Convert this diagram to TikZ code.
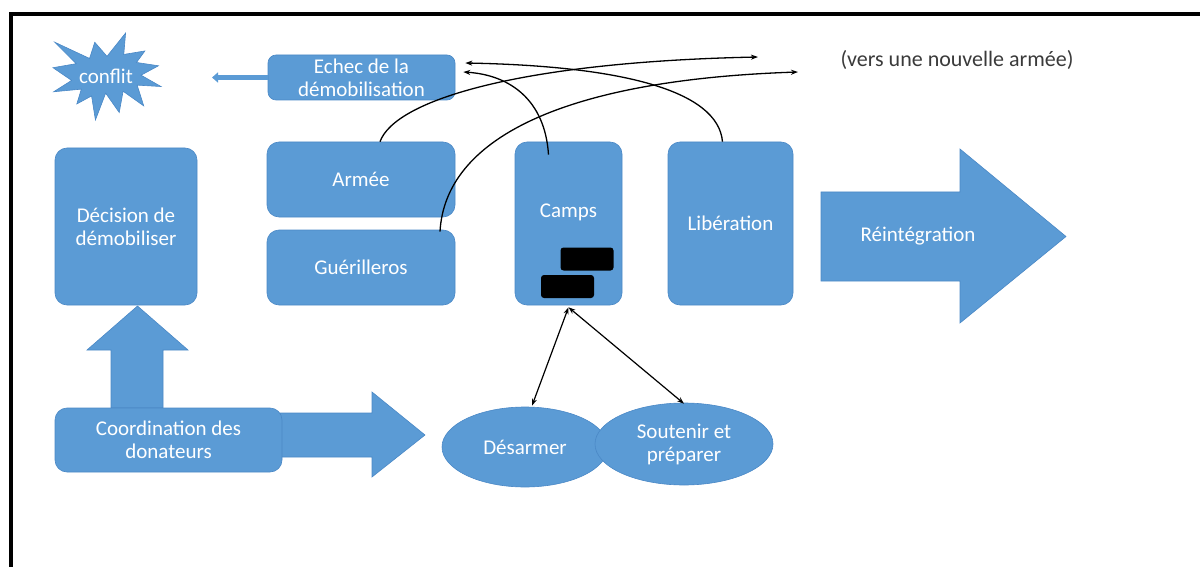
\documentclass[tikz,border=0pt]{standalone}
\usepackage{fontspec}
\setmainfont{Carlito}
\usetikzlibrary{shapes.geometric,arrows.meta,calc}
\definecolor{boxblue}{HTML}{5B9BD5}
\definecolor{edgeblue}{HTML}{4A88C6}
\definecolor{labelgray}{HTML}{3A3A3A}
\begin{document}
\begin{tikzpicture}[x=1pt,y=-1pt,
  every node/.style={font=\fontsize{21}{23}\selectfont},
  blockbox/.style={fill=boxblue, draw=edgeblue, line width=0.6pt,
    rounded corners=12pt, text=white, align=center, inner sep=0pt},
  blocktext/.style={text=white, align=center, inner sep=0pt},
  blackbox/.style={fill=black, rounded corners=3pt, minimum width=53pt,
    minimum height=23pt, inner sep=0pt},
  bubble/.style={ellipse, fill=boxblue, draw=edgeblue, line width=0.6pt,
    text=white, align=center, inner sep=0pt},
  bigarrow/.style={fill=boxblue, draw=edgeblue, line width=0.6pt},
  curvearrow/.style={black, line width=1.3pt,
    -{Stealth[length=7pt,width=5pt]}},
  linkarrow/.style={black, line width=1.2pt,
    {Stealth[length=7pt,width=5pt]}-{Stealth[length=7pt,width=5pt]}}
]
\useasboundingbox (0,0) rectangle (1200,567);

% frame
\draw[line width=4.5pt] (10.8,567) -- (10.8,14) -- (1200,14);

% explosion "conflit"
\begin{scope}[shift={(53,33)}, xscale=0.5,  yscale=0.4028]
  \filldraw[fill=boxblue, draw=edgeblue, line width=0.6pt]
    (108,58) -- (145.22,0) -- (141.55,53.25) -- (183.8,44.57) --
    (167.02,73.15) -- (210.97,81.37) -- (176.07,104.75) -- (216,132.9) --
    (168.37,129.42) -- (181.45,180.95) -- (140.2,144.57) -- (132.47,197.37) --
    (105.32,149.35) -- (84.85,216) -- (77.15,156.27) -- (47.62,176.17) --
    (56.67,139.37) -- (1.35,145.87) -- (37.22,117.75) -- (0,86.15) --
    (46.27,76.17) -- (3.7,22.95) -- (73.12,63.2) -- (83.52,22.95) -- cycle;
\end{scope}
\node[blocktext] (conflit) at (106,76) {conflit};
\coordinate (conflit tip) at (212,77.5);

% block arrows
\fill[bigarrow] (111,408) -- (111,350) -- (87,350) -- (137.5,306)
  -- (188,350) -- (163,350) -- (163,408) -- cycle;
\fill[bigarrow] (280,413) -- (372,413) -- (372,392) -- (425,435)
  -- (372,477) -- (372,457) -- (280,457) -- cycle;
\fill[bigarrow] (821,192) -- (960,192) -- (960,149) -- (1066,236.5)
  -- (960,323) -- (960,281) -- (821,281) -- cycle;
\node[blocktext] (reint) at (918,236) {Réintégration};

% boxes
\node[blockbox, rounded corners=8pt, minimum width=187pt, minimum height=45pt]
  (echec) at (361.5,77.5) {Echec de la\\démobilisation};
\node[blockbox, minimum width=142pt, minimum height=157pt]
  (decision) at (126,226.5) {Décision de\\démobiliser};
\node[blockbox, minimum width=188pt, minimum height=75pt]
  (armee) at (361,179.5) {Armée};
\node[blockbox, minimum width=188pt, minimum height=75pt]
  (guer) at (361,267.5) {Guérilleros};
\node[blockbox, minimum width=107pt, minimum height=163pt]
  (camps) at (568.5,223.5) {};
\node[blocktext] (campstext) at (568.5,212) {Camps};
\node[blackbox] (cell1) at (587,259) {};
\node[blackbox] (cell2) at (567.5,286.5) {};
\node[blockbox, minimum width=125pt, minimum height=163pt]
  (liber) at (730.5,223.5) {Libération};
\node[blockbox, minimum width=227pt, minimum height=64pt]
  (coord) at (168.5,440) {Coordination des\\donateurs};

% ellipses
\node[bubble, minimum width=166pt, minimum height=80pt]
  (desarmer) at (525,447) {Désarmer};
\node[bubble, minimum width=178pt, minimum height=82pt]
  (soutenir) at (684,444) {Soutenir et\\préparer};

% failure feeds back into conflict
\draw[boxblue, line width=4.5pt, -{Triangle[length=6pt,width=10pt]}]
  (echec.west) -- (conflit tip);

% curved links at the top
\coordinate (newarmy1) at (758,57);
\coordinate (newarmy2) at (798,72);
\node[text=labelgray, inner sep=0pt, font=\fontsize{22}{24}\selectfont]
  (newarmy) at (957,60) {(vers une nouvelle armée)};

\draw[curvearrow] ($(camps.north)+(-20,13)$)
  .. controls (545,100) and (510,75) .. ($(echec.east)+(8,-5.5)$);
\draw[curvearrow] ($(liber.north)+(-8,0)$)
  .. controls (718,90) and (620,66) .. ($(echec.east)+(10,-14.5)$);
\draw[curvearrow] ($(armee.north)+(19,0)$)
  .. controls (395,100) and (520,62) .. (newarmy1);
\draw[curvearrow] ($(guer.north)+(79,2)$)
  .. controls (445,140) and (560,80) .. (newarmy2);

% camps to the two tasks
\draw[linkarrow] ($(desarmer.north)+(7,-1)$) -- ($(camps.south)+(0,2)$);
\draw[linkarrow] ($(camps.south)+(0,2)$) -- ($(soutenir.north)+(0,1)$);
\end{tikzpicture}
\end{document}
